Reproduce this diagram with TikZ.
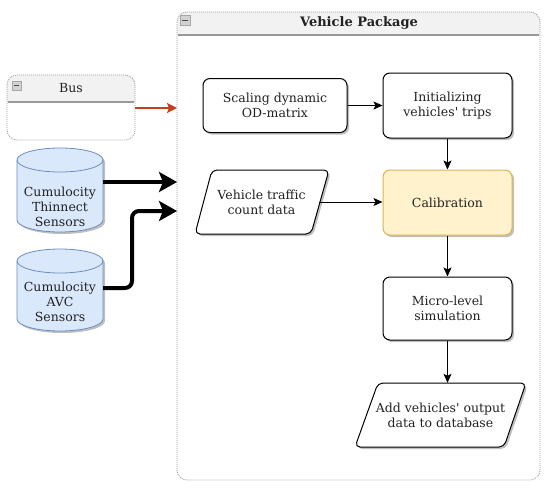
\documentclass[tikz,border=0pt]{standalone}
\usepackage{fontspec}
\setmainfont{DejaVu Serif}
\usetikzlibrary{arrows.meta,shadows}
\definecolor{calfill}{HTML}{FFF2CC}
\definecolor{caldraw}{HTML}{D6B656}
\definecolor{cylfill}{HTML}{DAE8FC}
\definecolor{cyldraw}{HTML}{6C8EBF}
\definecolor{hdrfill}{HTML}{F2F2F2}
\definecolor{dotgray}{HTML}{9A9A9A}
\definecolor{redarrow}{HTML}{C1401E}
\definecolor{txt}{HTML}{222222}
\begin{document}
\begin{tikzpicture}[x=1pt,y=-1pt,
  every node/.style={text=txt},
  lbl/.style={align=center, font=\fontsize{12.5}{15}\selectfont},
  shadowed/.style={drop shadow={shadow xshift=2pt, shadow yshift=-2pt, opacity=0.25, fill=black}},
  box/.style={lbl, draw=black, line width=1pt, rounded corners=7pt, fill=white, shadowed, inner sep=0pt},
  para/.style={draw=black, line width=1pt, fill=white, rounded corners=5pt, shadowed},
  cyl/.style={draw=cyldraw, line width=0.8pt, fill=cylfill, shadowed},
  container/.style={draw=dotgray, line width=0.8pt, dash pattern=on 1pt off 1pt, rounded corners=10pt},
  hdrline/.style={draw=gray!80, line width=1.8pt},
  thin/.style={draw=black, line width=1pt, -{Stealth[length=9pt,width=8pt,inset=2pt]}},
  thick/.style={draw=black, line width=4pt, -{Stealth[length=18pt,width=20pt,inset=4pt]}},
  redarr/.style={draw=redarrow, line width=2.5pt, -{Stealth[length=10pt,width=10pt,inset=2pt]}},
  minus/.style={fill=gray!35, draw=gray!70, line width=0.5pt}
]
\useasboundingbox (0,0) rectangle (550,491);

% ---- Vehicle Package container ----
\begin{scope}
  \clip[rounded corners=10pt] (177,12) rectangle (540,480);
  \fill[hdrfill] (177,12) rectangle (540,35);
\end{scope}
\draw[hdrline] (178,35) -- (539,35);
\draw[container] (177,12) rectangle (540,480);
\node[inner sep=0pt, minimum width=363pt, minimum height=468pt] (pkg) at (358.5,246) {};
\node[font=\fontsize{13}{15}\selectfont\bfseries] (pkgtitle) at (359,23) {Vehicle Package};
\draw[minus] (180,15) rectangle (190,25);
\draw[line width=1pt, black!70] (182,20) -- (188,20);

% ---- Bus container ----
\begin{scope}
  \clip[rounded corners=10pt] (7,75) rectangle (135,140);
  \fill[hdrfill] (7,75) rectangle (135,102);
\end{scope}
\draw[hdrline] (8,102) -- (134,102);
\draw[container] (7,75) rectangle (135,140);
\node[inner sep=0pt, minimum width=128pt, minimum height=65pt] (bus) at (71,107.5) {};
\node[lbl] (bustitle) at (71,88) {Bus};
\draw[minus] (12,81) rectangle (21,90);
\draw[line width=1pt, black!70] (14,85.5) -- (19,85.5);

% ---- Cylinders ----
\draw[cyl] (17,160) -- (17,220) arc[start angle=180,end angle=360,x radius=43pt,y radius=12pt]
  -- (103,160) arc[start angle=0,end angle=180,x radius=43pt,y radius=12pt] -- cycle;
\draw[draw=cyldraw, line width=0.8pt] (17,160) arc[start angle=180,end angle=360,x radius=43pt,y radius=12pt];
\node[lbl, inner sep=0pt, minimum width=86pt, minimum height=84pt] (thinnect) at (60,190) {};
\node[lbl] (thintext) at (60,207) {Cumulocity\\Thinnect\\Sensors};

\draw[cyl] (17,261) -- (17,319) arc[start angle=180,end angle=360,x radius=43pt,y radius=12pt]
  -- (103,261) arc[start angle=0,end angle=180,x radius=43pt,y radius=12pt] -- cycle;
\draw[draw=cyldraw, line width=0.8pt] (17,261) arc[start angle=180,end angle=360,x radius=43pt,y radius=12pt];
\node[lbl, inner sep=0pt, minimum width=86pt, minimum height=82pt] (avc) at (60,288) {};
\node[lbl] (avctext) at (60,302) {Cumulocity\\AVC\\Sensors};

% ---- Process boxes ----
\node[box, minimum width=144pt, minimum height=54pt] (scale) at (275,105.5) {Scaling dynamic\\OD-matrix};
\node[box, minimum width=129pt, minimum height=65pt] (init) at (447.5,105.5) {Initializing\\vehicles\textquotesingle{} trips};
\node[box, fill=calfill, draw=caldraw, minimum width=129pt, minimum height=65pt] (calib) at (447.5,202.5) {Calibration};
\node[box, minimum width=129pt, minimum height=63pt] (micro) at (447.5,308.5) {Micro-level\\simulation};

% ---- Parallelograms ----
\draw[para] (212,170) -- (329,170) -- (311,234) -- (195,234) -- cycle;
\node[lbl, inner sep=0pt, minimum width=115pt, minimum height=64pt] (vtc) at (261.5,202) {Vehicle traffic\\count data};
\draw[para] (378,383) -- (526,383) -- (504,447) -- (355,447) -- cycle;
\node[lbl, inner sep=0pt, minimum width=150pt, minimum height=64pt] (out) at (440.5,415) {Add vehicles\textquotesingle{} output\\data to database};

% ---- Entry points on package ----
\coordinate (inB) at (177,108);
\coordinate (inT) at (177,182);
\coordinate (inA) at (177,211);

% ---- Connectors ----
\draw[redarr] (bus.east |- inB) -- (inB);
\draw[thick] (thinnect.east |- inT) -- (inT);
\draw[thick, rounded corners=7pt] (avc.east) -- (132,288) |- (inA);
\draw[thin] (scale.east) -- (scale.east -| init.west);
\draw[thin] (init.south) -- (calib.north);
\draw[thin] (vtc.east) -- (vtc.east -| calib.west);
\draw[thin] (calib.south) -- (micro.north);
\draw[thin] (micro.south) -- (micro.south |- out.north);
\end{tikzpicture}
\end{document}
